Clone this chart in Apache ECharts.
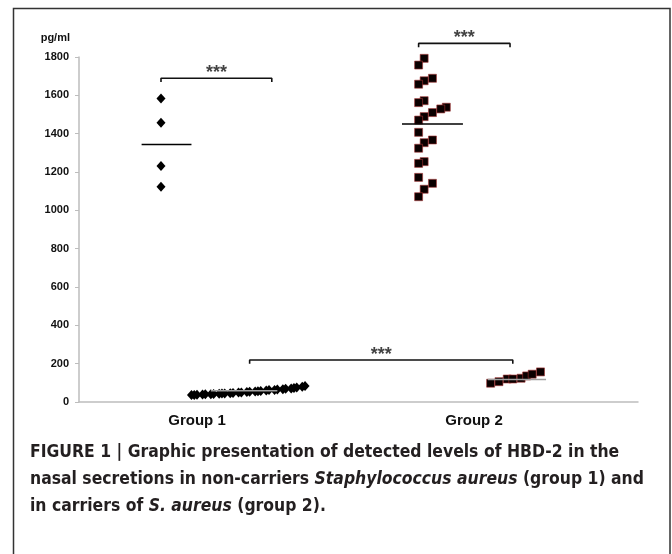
<!DOCTYPE html>
<html>
<head>
<meta charset="utf-8">
<script src="https://cdn.jsdelivr.net/npm/echarts@6/dist/echarts.min.js"></script>
<style>
html, body { margin: 0; padding: 0; background: #fff; }
#chart { width: 672px; height: 554px; }
</style>
</head>
<body>
<div id="chart"></div>
<script>
// groups sit at x = 1 and x = 2, points are jittered sideways around them
const groups = ['Group 1', 'Group 2'];

// group 1 - high values
const g1HighX = [0.87, 0.87, 0.87, 0.87];
const g1HighY = [1584, 1457, 1231, 1123];

// group 1 - low values (the dense diamond band)
const g1LowX = [0.98, 0.99, 1.00, 1.02, 1.03, 1.05, 1.06, 1.08, 1.09, 1.10,
                1.12, 1.13, 1.15, 1.16, 1.18, 1.19, 1.21, 1.22, 1.23, 1.25,
                1.26, 1.28, 1.29, 1.31, 1.32, 1.34, 1.35, 1.36, 1.38, 1.39];
const g1LowY = [36, 37, 38, 39, 40, 41, 42, 43, 44, 45,
                46, 47, 49, 50, 52, 53, 55, 56, 58, 60,
                62, 63, 65, 67, 69, 71, 73, 76, 79, 84];

// group 2 - high values
const g2HighX = [1.82, 1.80, 1.85, 1.82, 1.80, 1.82, 1.80, 1.90, 1.88, 1.85, 1.82,
                 1.80, 1.80, 1.85, 1.82, 1.80, 1.82, 1.80, 1.80, 1.85, 1.82, 1.80];
const g2HighY = [1793, 1758, 1689, 1676, 1658, 1572, 1562, 1538, 1529, 1510, 1489,
                 1471, 1407, 1367, 1353, 1324, 1254, 1245, 1172, 1141, 1110, 1071];

// group 2 - low values
const g2LowX = [2.06, 2.09, 2.12, 2.14, 2.17, 2.19, 2.21, 2.24];
const g2LowY = [98, 106, 120, 120, 124, 136, 145, 157];

// horizontal mean bars: [from, to, level]
const meanG1High = [0.80, 0.98, 1344];
const meanG2High = [1.74, 1.96, 1450];
const meanG1Low = [1.05, 1.29, 59];
const meanG2Low = [2.05, 2.26, 118];

// significance brackets
const bracketFrom = [0.87, 1.80, 1.19];
const bracketTo = [1.27, 2.13, 2.14];
const bracketLevel = [1689, 1871, 219];
const bracketLabel = ['***', '***', '***'];

const font = '"Liberation Sans", Arial, sans-serif';
const captionFont = '"DejaVu Sans Condensed", "Liberation Sans", sans-serif';

function pairs(xs, ys) {
    return xs.map((x, i) => [x, ys[i]]);
}

function meanSeries(m, color, z) {
    return {
        type: 'line', data: [[m[0], m[2]], [m[1], m[2]]],
        symbol: 'none', silent: true, z: z,
        lineStyle: {color: color, width: 1.5}
    };
}

function bracketSeries(i) {
    const drop = 20;
    return {
        type: 'line', symbol: 'none', silent: true, clip: false,
        data: [[bracketFrom[i], bracketLevel[i] - drop], [bracketFrom[i], bracketLevel[i]],
               [bracketTo[i], bracketLevel[i]], [bracketTo[i], bracketLevel[i] - drop]],
        lineStyle: {color: '#111', width: 1.6}
    };
}

const diamond = {symbol: 'diamond', symbolSize: [9, 10], itemStyle: {color: '#000', opacity: 1}};
const square = {
    symbol: 'rect', symbolSize: 8,
    itemStyle: {color: '#0a0000', borderColor: '#a83434', borderWidth: 0.6, opacity: 1}
};

const series = [
    Object.assign({type: 'scatter', data: pairs(g1HighX, g1HighY)}, diamond),
    Object.assign({type: 'scatter', data: pairs(g1LowX, g1LowY)}, diamond),
    Object.assign({type: 'scatter', data: pairs(g2HighX, g2HighY)}, square),
    Object.assign({type: 'scatter', data: pairs(g2LowX, g2LowY)}, square),
    meanSeries(meanG1High, '#000', 3),
    meanSeries(meanG2High, '#000', 3),
    meanSeries(meanG1Low, '#a0a0a0', 3),
    meanSeries(meanG2Low, '#a0a0a0', 3),
    bracketSeries(0), bracketSeries(1), bracketSeries(2),
    {
        type: 'scatter', symbolSize: 0, silent: true, clip: false,
        data: bracketFrom.map((f, i) => [(f + bracketTo[i]) / 2, bracketLevel[i]]),
        label: {
            show: true, position: 'inside', offset: [0, -5],
            formatter: p => bracketLabel[p.dataIndex],
            fontFamily: font, fontSize: 18, fontWeight: 'bold', color: '#111'
        }
    }
];

const myChart = echarts.init(document.getElementById('chart'), null, {renderer: 'canvas'});
myChart.setOption({
    animation: false,
    backgroundColor: '#fff',
    grid: {left: 79, right: 34, top: 57, bottom: 152},
    title: {
        left: 30, top: 439, padding: 0,
        text: '{a|FIGURE 1 | Graphic presentation of detected levels of HBD-2 in the}\n' +
              '{a|nasal secretions in non-carriers }{i|Staphylococcus aureus}{a| (group 1) and}\n' +
              '{a|in carriers of }{i|S. aureus}{a| (group 2).}',
        textStyle: {
            rich: {
                a: {fontFamily: captionFont, fontSize: 17.4, fontWeight: 'bold', color: '#231f20', lineHeight: 27},
                i: {fontFamily: captionFont, fontSize: 17.4, fontWeight: 'bold', fontStyle: 'italic',
                    color: '#231f20', lineHeight: 27}
            }
        }
    },
    xAxis: {
        type: 'value', min: 0.574, max: 2.592,
        splitLine: {show: false},
        axisLine: {show: true, onZero: false, lineStyle: {color: '#bdbdbd', width: 1.5}},
        axisTick: {show: false},
        axisLabel: {
            customValues: [1, 2],
            formatter: v => groups[Math.round(v) - 1],
            fontFamily: font, fontSize: 15, fontWeight: 'bold', color: '#111', margin: 11
        }
    },
    yAxis: {
        type: 'value', min: 0, max: 1800, interval: 200,
        name: 'pg/ml', nameGap: 14,
        nameTextStyle: {fontFamily: font, fontSize: 11, fontWeight: 'bold', color: '#111',
                        align: 'right', padding: [0, 9, 0, 0]},
        splitLine: {show: false},
        axisLine: {show: true, lineStyle: {color: '#bdbdbd', width: 1.5}},
        axisTick: {show: true, length: 4, lineStyle: {color: '#bdbdbd'}},
        axisLabel: {fontFamily: font, fontSize: 11, fontWeight: 'bold', color: '#111', margin: 10,
                    formatter: v => String(v)}
    },
    graphic: [{
        type: 'rect', silent: true, z: 100,
        shape: {x: 13.5, y: 8.5, width: 656.5, height: 560},
        style: {fill: 'none', stroke: '#333', lineWidth: 1.5}
    }],
    series: series
});
</script>
</body>
</html>
